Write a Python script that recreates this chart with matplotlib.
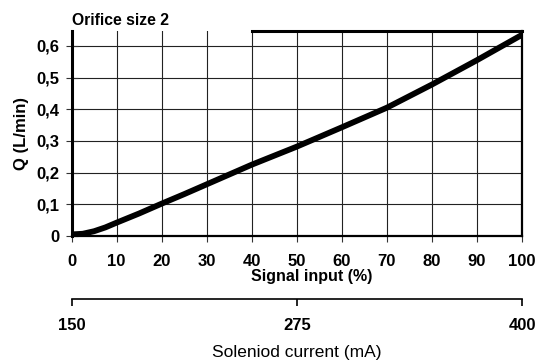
import matplotlib
matplotlib.use("Agg")
import matplotlib.pyplot as plt

plt.rcParams['font.family'] = ['Liberation Sans', 'DejaVu Sans']

# values
signal_pct = [0, 2.5, 5, 7.5, 10, 15, 20, 25, 30, 40, 50, 60, 70, 80, 90, 100]
flow_lpm = [0.005, 0.007, 0.015, 0.027, 0.042, 0.071, 0.102, 0.132, 0.163, 0.225,
            0.282, 0.343, 0.405, 0.478, 0.555, 0.635]
x_ticks = list(range(0, 101, 10))
y_ticks = [0, 0.1, 0.2, 0.3, 0.4, 0.5, 0.6]
y_ticklabels = ['0', '0,1', '0,2', '0,3', '0,4', '0,5', '0,6']
current_ticks = [150, 275, 400]

fig = plt.figure(figsize=(5.39, 3.61), dpi=100)
ax = fig.add_axes([0.1327, 0.3463, 0.8358, 0.5678])

ax.plot(signal_pct, flow_lpm, color='black', lw=4.2, solid_capstyle='butt')

ax.set_xlim(0, 100)
ax.set_ylim(0, 0.647)
ax.set_xticks(x_ticks)
ax.set_yticks(y_ticks)
ax.set_yticklabels(y_ticklabels)
ax.grid(True, color='#222222', lw=0.8)
ax.set_axisbelow(True)

for lab in ax.get_xticklabels() + ax.get_yticklabels():
    lab.set_fontweight('bold')
ax.tick_params(axis='y', direction='inout', length=8, width=0.8, color='#333333',
               labelsize=12, pad=5)
ax.tick_params(axis='x', direction='out', length=4, width=0.8, color='#333333',
               labelsize=12, pad=9)

ax.spines['top'].set_visible(False)
ax.spines['left'].set_linewidth(2.2)
ax.spines['right'].set_linewidth(1.6)
ax.spines['bottom'].set_linewidth(1.6)
# top border only covers the right part of the frame
ax.axhline(0.647, xmin=0.4, xmax=1, color='black', lw=2.2, clip_on=False)

ax.set_ylabel('Q (L/min)', fontsize=12, fontweight='bold', labelpad=5)
ax.set_xlabel('Signal input (%)', fontsize=11.5, fontweight='bold', labelpad=1)
ax.xaxis.set_label_coords(0.533, -0.16)
ax.set_title('Orifice size 2', loc='left', fontsize=11.3, fontweight='bold', pad=4)

# second scale for solenoid current
ax2 = fig.add_axes([0.1327, 0.1717, 0.8358, 0.0001])
ax2.set_xlim(150, 400)
ax2.set_xticks(current_ticks)
ax2.set_yticks([])
for side in ['top', 'left', 'right']:
    ax2.spines[side].set_visible(False)
ax2.spines['bottom'].set_linewidth(1.2)
ax2.tick_params(axis='x', direction='out', length=5, width=1.2, labelsize=12, pad=9)
for lab in ax2.get_xticklabels():
    lab.set_fontweight('bold')
ax2.set_xlabel('Soleniod current (mA)', fontsize=12.5, labelpad=8)
ax2.patch.set_visible(False)

fig.savefig('out.png', dpi=100)
